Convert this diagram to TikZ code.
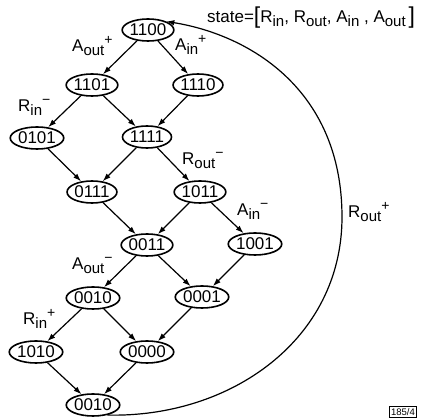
\documentclass[tikz,border=0pt]{standalone}
\usepackage{fontspec}
\setmainfont{Liberation Sans}
\usetikzlibrary{shapes.geometric,arrows.meta}
\newcommand{\mysub}[1]{{\fontsize{15}{15}\selectfont\raisebox{-3.5pt}{#1}}}
\newcommand{\mysig}[3]{#1\mysub{#2}{\fontsize{14}{14}\selectfont\raisebox{7pt}{#3}}}
\begin{document}
\begin{tikzpicture}[x=1pt,y=-1pt,
  st/.style={draw, ellipse, line width=1.6pt, inner sep=0pt, minimum width=49pt, minimum height=22pt, font=\fontsize{17}{17}\selectfont},
  lbl/.style={font=\fontsize{17}{19}\selectfont, inner sep=0pt, anchor=base west},
  arr/.style={line width=1.2pt, -{Latex[length=8pt,width=5.5pt]}}]
\useasboundingbox (0,0) rectangle (426,419);
\node[st] (a) at (148,30) {1100};
\node[st] (b) at (92,85) {1101};
\node[st] (c) at (198,85) {1110};
\node[st] (d) at (37,138) {0101};
\node[st] (e) at (147,137) {1111};
\node[st] (f) at (92,192) {0111};
\node[st] (g) at (200,192) {1011};
\node[st] (h) at (147,245) {0011};
\node[st] (i) at (255,244) {1001};
\node[st] (j) at (93,298) {0010};
\node[st] (k) at (202,297) {0001};
\node[st] (l) at (36,352) {1010};
\node[st] (m) at (147,352) {0000};
\node[st] (n) at (93,405) {0010};
\draw[arr] (a) -- (b);
\draw[arr] (a) -- (c);
\draw[arr] (b) -- (d);
\draw[arr] (b) -- (e);
\draw[arr] (c) -- (e);
\draw[arr] (d) -- (f);
\draw[arr] (e) -- (f);
\draw[arr] (e) -- (g);
\draw[arr] (f) -- (h);
\draw[arr] (g) -- (h);
\draw[arr] (g) -- (i);
\draw[arr] (h) -- (j);
\draw[arr] (h) -- (k);
\draw[arr] (i) -- (k);
\draw[arr] (j) -- (l);
\draw[arr] (j) -- (m);
\draw[arr] (k) -- (m);
\draw[arr] (l) -- (n);
\draw[arr] (m) -- (n);
\draw[arr] (n.-35) .. controls (230,418) and (342,340) .. (342,217) .. controls (342,90) and (250,35) .. (a.25);
\node[lbl] (la1) at (72,52) {\mysig{A}{out}{+}};
\node[lbl] (la2) at (175,51) {\mysig{A}{in}{+}};
\node[lbl] (lr1) at (18,112) {\mysig{R}{in}{−}};
\node[lbl] (lr2) at (182,165) {\mysig{R}{out}{−}};
\node[lbl] (la3) at (237,216) {\mysig{A}{in}{−}};
\node[lbl] (la4) at (72,270) {\mysig{A}{out}{−}};
\node[lbl] (lr3) at (23,325) {\mysig{R}{in}{+}};
\node[lbl] (lr4) at (348,218) {\mysig{R}{out}{+}};
\node[lbl] (state) at (207,23) {state={\fontsize{23}{23}\selectfont\raisebox{-1pt}{[}}R\mysub{in}, R\mysub{out}, A\mysub{in} , A\mysub{out}\,{\fontsize{23}{23}\selectfont\raisebox{-1pt}{]}}};
\node[draw, line width=0.7pt, inner sep=1.8pt, font=\fontsize{9.5}{10}\selectfont] (tag) at (403,412) {185/4};
\end{tikzpicture}
\end{document}
